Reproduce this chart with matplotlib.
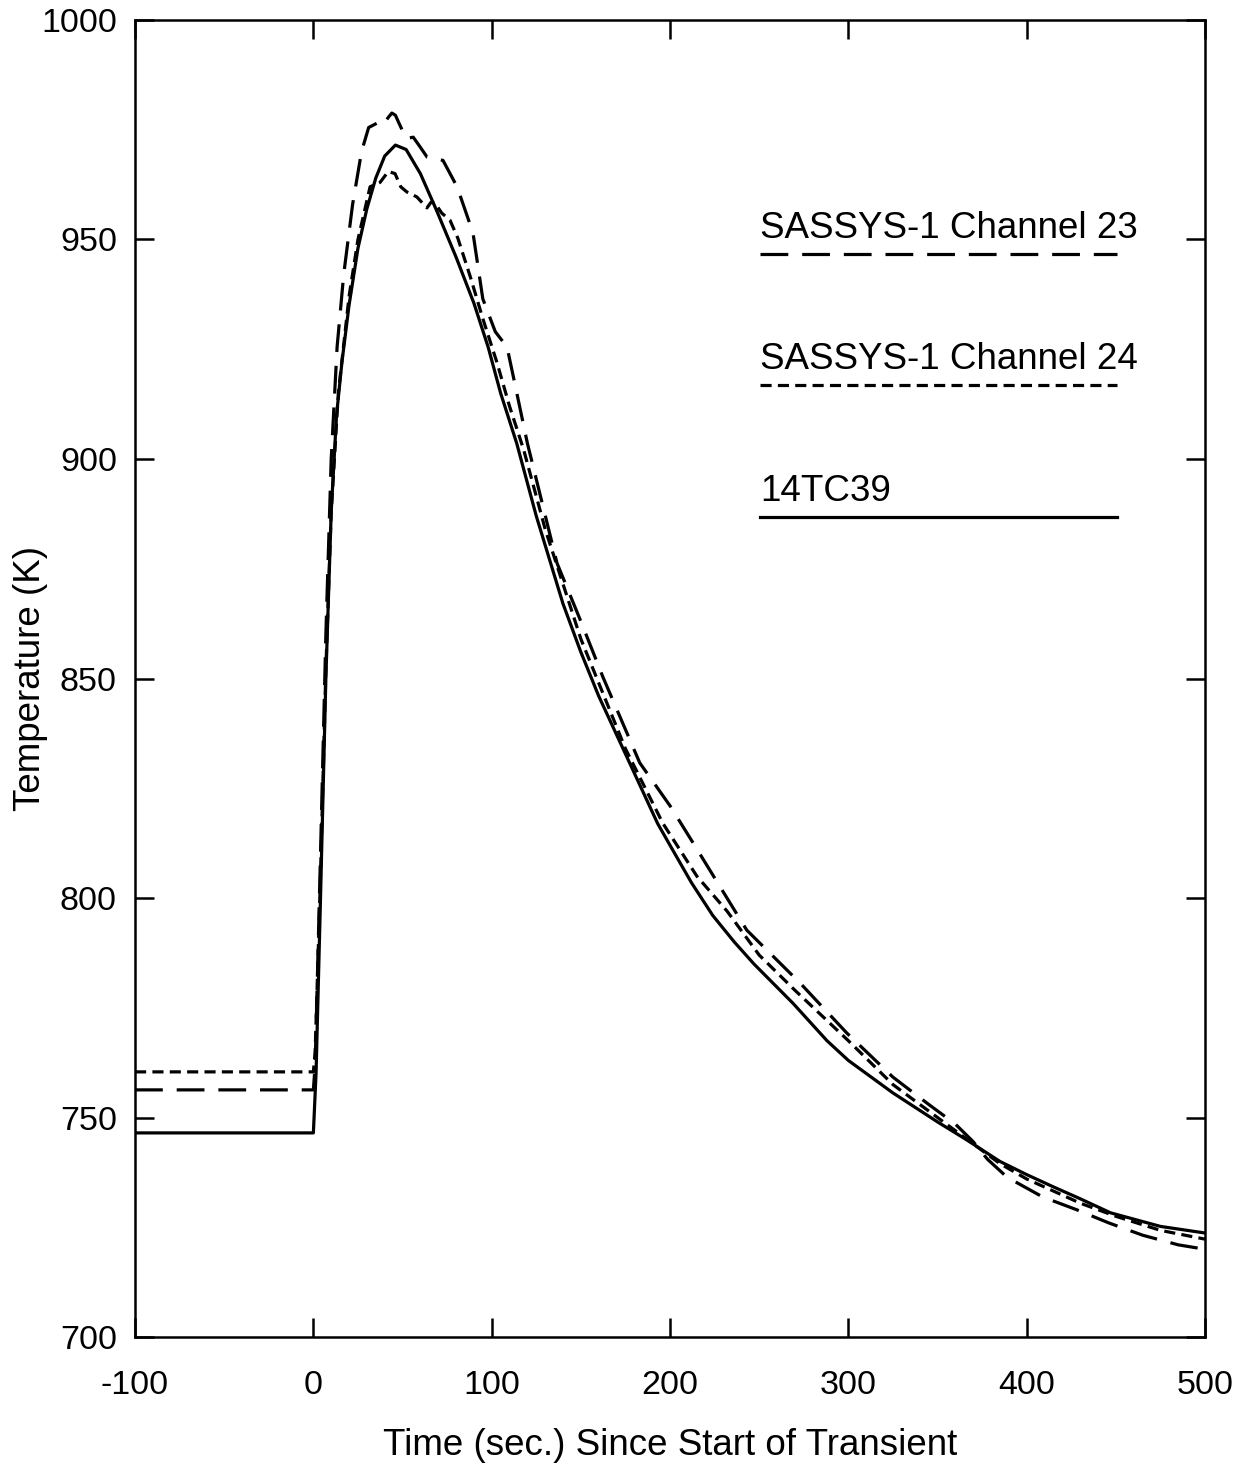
import matplotlib
matplotlib.use("Agg")
import matplotlib.pyplot as plt

plt.rcParams['font.family'] = ['Liberation Sans', 'DejaVu Sans']
plt.rcParams['lines.scale_dashes'] = False
plt.rcParams['axes.unicode_minus'] = False

# 14TC39 (measured, solid)
t_tc39 = [-100, 0, 1.5, 4, 7, 10, 13, 16, 20, 25, 30, 35, 40, 46, 52, 60, 69, 80, 90, 98,
          105, 114, 125, 140, 150, 160, 174, 193, 200, 212, 224, 236, 247, 258, 269, 288, 300,
          325, 350, 366, 385, 400, 415, 430, 447, 475, 500]
T_tc39 = [746.5, 746.5, 760, 800, 850, 888, 910, 922, 935, 948, 957, 964, 969, 971.5, 970.5,
          965, 956.7, 946, 935.5, 925.5, 915, 903.6, 887, 867, 856, 846, 833.7, 817, 812,
          803.5, 796, 790, 785, 780.5, 776, 767.5, 763, 755.6, 749, 745, 740, 737, 734.2,
          731.5, 728.3, 725.2, 723.7]

# SASSYS-1 Channel 23 (long dash)
t_ch23 = [-100, 0, 1, 4, 7, 10, 13.3, 17, 22, 27, 31, 35.7, 39, 42, 44, 46, 48, 52, 56, 60,
          63.7, 68, 72.7, 80.6, 89.5, 95, 102, 108.6, 112, 120, 136.6, 150, 162.4, 183, 200,
          213, 243, 273, 299, 325, 345, 360, 370, 378, 389, 409, 428, 446, 465, 485, 500]
T_ch23 = [756.3, 756.3, 762, 810, 860, 900, 925.5, 942, 958, 970, 975.5, 976.5, 976, 977.8,
          978.8, 978.3, 976.5, 973, 973.3, 971, 968.8, 968.5, 968, 962, 951.5, 936.5, 929,
          925.5, 919, 903.6, 876.3, 863, 850.3, 830.8, 821, 812.5, 792.7, 780.6, 769.3, 759.2,
          753, 748.5, 744.5, 740.5, 736.4, 731.9, 729, 726, 723.2, 721, 720]

# SASSYS-1 Channel 24 (short dash)
t_ch24 = [-100, 0, 1, 4, 7, 10, 14, 20, 25, 31.8, 37.4, 42, 45.8, 49, 52.5, 58, 63.7, 66,
          68.2, 72, 76.6, 81, 88, 95, 103, 110, 118, 130, 150, 175, 196, 215, 232, 250,
          270, 300, 325, 350, 370, 385, 400, 430, 450, 475, 500]
T_ch24 = [760.4, 760.4, 765, 805, 852, 888, 915, 937, 950, 962, 963, 965.5, 965, 962, 960.8,
          959.7, 957.2, 958.5, 958.3, 956, 954.4, 950.3, 941.5, 932, 921.9, 912, 902, 884,
          859, 834, 817, 805, 797, 787, 779, 767.5, 757.5, 750, 744, 739.5, 736, 730.5,
          727.5, 724.3, 722.3]

legend_labels = ["SASSYS-1 Channel 23", "SASSYS-1 Channel 24", "14TC39"]
x_ticks = [-100, 0, 100, 200, 300, 400, 500]
y_ticks = [700, 750, 800, 850, 900, 950, 1000]

fig = plt.figure(figsize=(12.55, 14.68), dpi=100)
ax = fig.add_axes([0.1076, 0.0892, 0.8526, 0.8972])

lw = 2.3
styles = [dict(dashes=(20, 10)), dict(dashes=(8, 4.5)), dict(linestyle='-')]
ax.plot(t_ch23, T_ch23, color='black', lw=lw, **styles[0])
ax.plot(t_ch24, T_ch24, color='black', lw=lw, **styles[1])
ax.plot(t_tc39, T_tc39, color='black', lw=lw, **styles[2])

# custom legend: text above a sample line
leg_y = [0.8223, 0.7229, 0.6226]
for lbl, yy, st in zip(legend_labels, leg_y, styles):
    ax.plot([0.584, 0.918], [yy, yy], transform=ax.transAxes, color='black', lw=lw, **st)
    ax.text(0.584, yy + 0.006, lbl, transform=ax.transAxes, fontsize=26.5,
            ha='left', va='bottom')

ax.set_xlim(-100, 500)
ax.set_ylim(700, 1000)
ax.set_xticks(x_ticks)
ax.set_yticks(y_ticks)
ax.tick_params(direction='in', length=14, width=1.8, top=True, right=True,
               labelsize=24.5)
ax.tick_params(axis='x', pad=24)
ax.tick_params(axis='y', pad=13)
for s in ax.spines.values():
    s.set_linewidth(1.8)

ax.set_xlabel("Time (sec.) Since Start of Transient", fontsize=26.5, va='center')
ax.set_ylabel("Temperature (K)", fontsize=26.5, va='center')
ax.xaxis.set_label_coords(0.5, -0.082)
ax.yaxis.set_label_coords(-0.098, 0.5)

fig.savefig("out.png", dpi=100)
